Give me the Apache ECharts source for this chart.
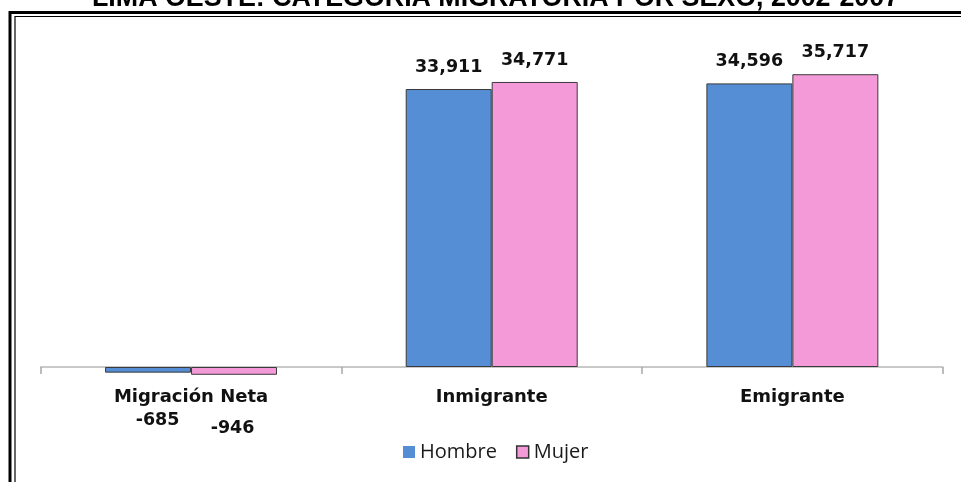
<!DOCTYPE html>
<html>
<head>
<meta charset="utf-8">
<script src="https://cdn.jsdelivr.net/npm/echarts@6/dist/echarts.min.js"></script>
<style>html,body{margin:0;padding:0;background:#fff}#c{width:961px;height:482px}</style>
</head>
<body>
<div id="c"></div>
<script>
var titleText = 'LIMA OESTE: CATEGORÍA MIGRATORIA POR SEXO, 2002-2007';
var categories = ['Migración Neta', 'Inmigrante', 'Emigrante'];
var seriesNames = ['Hombre', 'Mujer'];
var hombre = [-685, 33911, 34596];
var mujer = [-946, 34771, 35717];

var colors = ['#558ED5', '#F49AD8'];
// label offsets for the negative-value labels (styling only)
var negOffsets = [[9.5, 0], [-1.5, 6]];

function fmt(v) { return v.toLocaleString('en-US'); }

function buildData(vals, sIdx) {
  return vals.map(function (v) {
    if (v < 0) {
      return { value: v, label: { position: 'bottom', distance: 39, offset: negOffsets[sIdx] } };
    }
    return { value: v };
  });
}

var labelStyle = {
  show: true, position: 'top', distance: 13,
  fontFamily: 'DejaVu Sans', fontWeight: 'bold', fontSize: 17.5, color: '#111',
  formatter: function (p) { return fmt(p.value); }
};

var chart = echarts.init(document.getElementById('c'), null, { renderer: 'canvas' });
chart.setOption({
  animation: false,
  backgroundColor: '#ffffff',
  graphic: [
    { type: 'text', left: 92, top: -15, style: { text: titleText, fontFamily: 'Liberation Sans', fontWeight: 'bold', fontSize: 26.8, fill: '#000' } },
    { type: 'rect', shape: { x: 10, y: 12.5, width: 1200, height: 1000 }, style: { fill: 'none', stroke: '#000', lineWidth: 3 } },
    { type: 'rect', shape: { x: 15, y: 16.5, width: 1200, height: 1000 }, style: { fill: 'none', stroke: '#000', lineWidth: 1.2 } }
  ],
  grid: { left: 40.7, right: 18.3, top: 39.1, bottom: 74, containLabel: false },
  legend: {
    left: 398, top: 437,
    itemWidth: 12, itemHeight: 12, itemGap: 19,
    icon: 'rect',
    textStyle: { fontFamily: 'Open Sans', fontSize: 20, color: '#1a1a1a' },
    data: [
      { name: 'Hombre', itemStyle: { borderWidth: 0 } },
      { name: 'Mujer', itemStyle: { borderColor: '#333', borderWidth: 1.5 } }
    ]
  },
  xAxis: {
    type: 'category', data: categories,
    axisLine: { show: true, onZero: true, lineStyle: { color: '#b8b8b8', width: 1.5 } },
    axisTick: { show: true, length: 7, alignWithLabel: false, lineStyle: { color: '#a8a8a8', width: 1.5 } },
    axisLabel: { margin: -20, fontFamily: 'DejaVu Sans', fontWeight: 'bold', fontSize: 18, color: '#111' }
  },
  yAxis: {
    type: 'value', min: -5000, max: 40000, interval: 5000,
    axisLine: { show: false }, axisTick: { show: false }, axisLabel: { show: false }, splitLine: { show: false }
  },
  series: [
    { name: seriesNames[0], type: 'bar', data: buildData(hombre, 0), barGap: '0%', barCategoryGap: '42.8%',
      itemStyle: { color: colors[0], borderColor: '#3a3a3a', borderWidth: 1 }, label: labelStyle },
    { name: seriesNames[1], type: 'bar', data: buildData(mujer, 1), barGap: '0%', barCategoryGap: '42.8%',
      itemStyle: { color: colors[1], borderColor: '#3a3a3a', borderWidth: 1 }, label: labelStyle }
  ]
});
</script>
</body>
</html>
